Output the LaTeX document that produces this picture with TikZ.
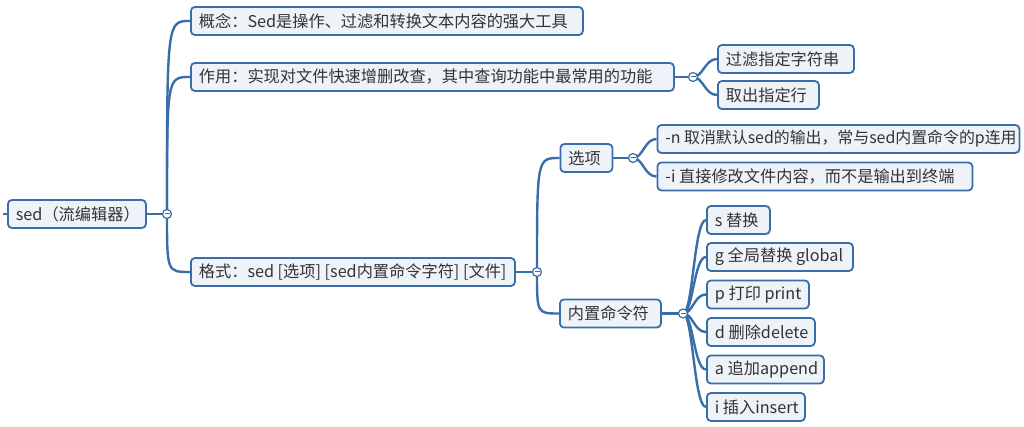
\documentclass[tikz,border=0pt]{standalone}
\usepackage{fontspec}
\newfontfamily\cjk{Noto Sans CJK SC}
\usetikzlibrary{backgrounds}
\definecolor{lc}{HTML}{3A6EA8}
\definecolor{bg}{HTML}{EEF3F9}
\definecolor{tc}{HTML}{333333}
\newcommand\tbx[2]{\makebox[#1pt][l]{#2}}
\tikzset{
  topic/.style={draw=lc, line width=1.8pt, rounded corners=4pt, fill=bg, text=tc,
    inner xsep=8pt, inner ysep=0pt, minimum height=28pt, anchor=west,
    font=\cjk\fontsize{16.2}{19}\selectfont},
  conn/.style={draw=lc, line width=2.4pt},
  fold/.style={circle, draw=lc, fill=white, line width=1.2pt, inner sep=0pt, minimum size=9pt,
    path picture={\draw[lc, line width=1pt]
      ([xshift=-2.5pt]path picture bounding box.center) -- ([xshift=2.5pt]path picture bounding box.center);}}
}
\begin{document}
\begin{tikzpicture}[x=1pt, y=-1pt]
\useasboundingbox (0,0) rectangle (1024,427);
% topics
\node[topic] (root) at (7,214) {\tbx{122}{sed（流编辑器）}};
\node[topic] (gn) at (190,21) {\tbx{376}{概念：Sed是操作、过滤和转换文本内容的强大工具}};
\node[topic] (zy) at (190,77) {\tbx{467}{作用：实现对文件快速增删改查，其中查询功能中最常用的功能}};
\node[topic] (gl) at (717,59) {\tbx{120}{过滤指定字符串}};
\node[topic] (qc) at (717,95) {\tbx{85}{取出指定行}};
\node[topic] (gs) at (190,272) {\tbx{308}{格式：sed [选项] [sed内置命令字符] [文件]}};
\node[topic] (xx) at (559.5,158) {\tbx{36}{选项}};
\node[topic, font=\cjk\fontsize{15.9}{19}\selectfont] (xn) at (656.5,139) {\tbx{346}{-n 取消默认sed的输出，常与sed内置命令的p连用}};
\node[topic] (xi) at (656.5,176.5) {\tbx{299}{-i 直接修改文件内容，而不是输出到终端}};
\node[topic] (nz) at (559,313.5) {\tbx{85}{内置命令符}};
\node[topic] (cs) at (706,220) {\tbx{47}{s 替换}};
\node[topic] (cg) at (706,257) {\tbx{130}{g 全局替换 global}};
\node[topic] (cp) at (706,294.5) {\tbx{86}{p 打印 print}};
\node[topic] (cd) at (706,332) {\tbx{92}{d 删除delete}};
\node[topic] (ca) at (706,369.5) {\tbx{101}{a 追加append}};
\node[topic] (ci) at (706,407) {\tbx{82}{i 插入insert}};
% fold points
\node[fold] (f0) at (167,214) {};
\node[fold] (f1) at (693,77) {};
\node[fold] (f2) at (537,272) {};
\node[fold] (f3) at (633,158) {};
\node[fold] (f4) at (683,313.5) {};
\coordinate (stub) at (3,214);
\begin{scope}[on background layer]
\fill[white] (0,0) rectangle (1024,427);
\draw[conn] (stub) -- (root.west);
\draw[conn] (root.east) -- (f0.center);
\foreach \c in {gn,zy,gs} \draw[conn] (f0.center) .. controls (f0.center |- \c.west) .. (\c.west);
\draw[conn] (zy.east) -- (f1.center);
\foreach \c in {gl,qc} \draw[conn] (f1.center) .. controls +(10,0) and +(-12,0) .. (\c.west);
\draw[conn] (gs.east) -- (f2.center);
\foreach \c in {xx,nz} \draw[conn] (f2.center) .. controls (f2.center |- \c.west) .. (\c.west);
\draw[conn] (xx.east) -- (f3.center);
\foreach \c in {xn,xi} \draw[conn] (f3.center) .. controls +(10,0) and +(-12,0) .. (\c.west);
\draw[conn] (nz.east) -- (f4.center);
\foreach \c in {cs,cg,cp,cd,ca,ci} \draw[conn] (f4.center) .. controls +(10,0) and +(-12,0) .. (\c.west);
\end{scope}
\end{tikzpicture}
\end{document}
